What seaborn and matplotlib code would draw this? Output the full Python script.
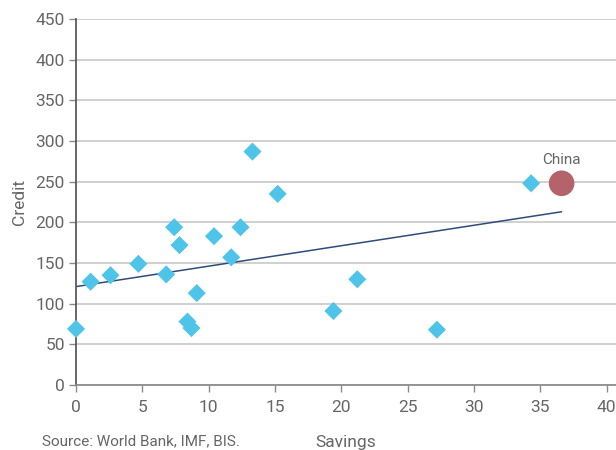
import numpy as np
import pandas as pd
import matplotlib
matplotlib.use("Agg")
import matplotlib.pyplot as plt
import seaborn as sns

# Savings vs credit (% of GDP)
savings = [0.0, 1.1, 2.6, 4.7, 6.8, 7.4, 7.8, 8.4, 8.7, 9.1, 10.4, 11.7,
           12.4, 13.3, 15.2, 19.4, 21.2, 27.2, 34.3]
credit = [69, 127, 135, 149, 136, 194, 172, 78, 70, 113, 183, 157,
          194, 287, 235, 91, 130, 68, 248]
china_savings = [36.6]
china_credit = [248]
trend_x = [0.0, 36.6]
trend_y = [121, 213]

sns.set_theme(style="white")
plt.rcParams['font.family'] = ['Roboto', 'DejaVu Sans']

TEXT = "#666666"
fig = plt.figure(figsize=(6.16, 4.5), dpi=100)
ax = fig.add_axes([0.1234, 0.1444, 0.8766, 0.8134])

df = pd.DataFrame({"Savings": savings, "Credit": credit})
ax.plot(trend_x, trend_y, color="#2f4b7c", lw=1.1, zorder=2)
pts = sns.scatterplot(data=df, x="Savings", y="Credit", marker="D", s=85,
                      color="#4fc4e9", edgecolor="none", ax=ax, zorder=3)
sns.scatterplot(x=china_savings, y=china_credit, s=340, color="#b5636a",
                edgecolor="none", ax=ax, zorder=4)
for coll in ax.collections:
    coll.set_clip_on(False)
ax.annotate("China", (china_savings[0], china_credit[0]), xytext=(0, 12),
            textcoords="offset points", ha="center", va="bottom",
            fontsize=11, color=TEXT)

ax.set_xlim(0, 40.7)
ax.set_ylim(0, 450)
ax.set_xticks(range(0, 41, 5))
ax.set_yticks(range(0, 451, 50))
ax.yaxis.grid(True, color="#c8c8c8", lw=1.2)
ax.xaxis.grid(False)
ax.set_axisbelow(True)

for side in ["top", "right"]:
    ax.spines[side].set_visible(False)
ax.spines["left"].set_color("#555555")
ax.spines["bottom"].set_color("#8a8a8a")
ax.tick_params(axis="both", labelsize=12.5, labelcolor=TEXT, bottom=True,
               left=True, length=5, width=1, color="#8a8a8a", direction="out")
ax.tick_params(axis="x", pad=6)
ax.tick_params(axis="y", pad=3)

ax.set_xlabel("Savings", fontsize=12.5, color=TEXT, labelpad=14)
ax.set_ylabel("Credit", fontsize=12.5, color=TEXT, labelpad=6)
fig.text(0.068, 0.003, "Source: World Bank, IMF, BIS.", fontsize=11,
         color=TEXT, ha="left", va="bottom")

fig.savefig("out.png", dpi=100)
